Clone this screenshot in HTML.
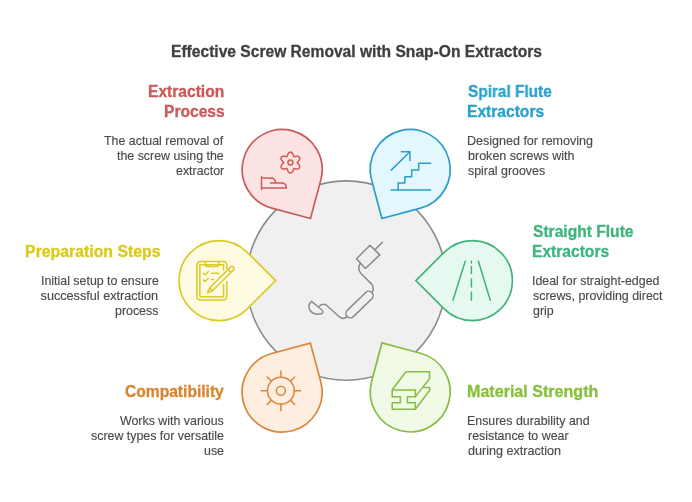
<!DOCTYPE html><html><head><meta charset="utf-8"><style>
html,body{margin:0;padding:0;background:#fff;}
#c{position:relative;width:692px;height:502px;overflow:hidden;background:#fff;font-family:"Liberation Sans",sans-serif;}
svg{position:absolute;left:0;top:0;}
.t{position:absolute;white-space:nowrap;will-change:transform;}
.h{font-weight:bold;font-size:15.6px;line-height:20px;-webkit-text-stroke:0.3px currentColor;}
.b{font-size:12.4px;line-height:15px;color:#4b4b4b;-webkit-text-stroke:0.15px currentColor;}
.r{text-align:right;}
</style></head><body><div id="c">
<svg width="692" height="502" viewBox="0 0 692 502">
<circle cx="346.2" cy="280.6" r="99.7" fill="#f0f0f0" stroke="#8c8c8c" stroke-width="1.6"/><path d="M310.48,218.49 L271.85,208.14 A40,40 0 1 1 320.84,179.85 Z" fill="#fde4e4" stroke="#cb5b57" stroke-width="1.7" stroke-linejoin="miter"/><path d="M381.92,218.49 L371.56,179.85 A40,40 0 1 1 420.55,208.14 Z" fill="#e3f8fe" stroke="#2b9dc9" stroke-width="1.7" stroke-linejoin="miter"/><path d="M415.83,280.60 L444.12,252.32 A40,40 0 1 1 444.12,308.88 Z" fill="#e6f9f0" stroke="#40b27b" stroke-width="1.7" stroke-linejoin="miter"/><path d="M381.92,342.91 L420.55,353.26 A40,40 0 1 1 371.56,381.55 Z" fill="#f1f9e7" stroke="#86bd42" stroke-width="1.7" stroke-linejoin="miter"/><path d="M310.38,343.11 L320.74,381.75 A40,40 0 1 1 271.75,353.46 Z" fill="#fdeee0" stroke="#d8883e" stroke-width="1.7" stroke-linejoin="miter"/><path d="M275.57,280.60 L247.28,308.88 A40,40 0 1 1 247.28,252.32 Z" fill="#fefbe2" stroke="#d9ca26" stroke-width="1.7" stroke-linejoin="miter"/>
<g fill="none" stroke-width="1.5" stroke-linecap="round" stroke-linejoin="round" stroke="#cb5b57"><path d="M290.40,152.10 L290.95,152.18 L291.47,152.42 L291.95,152.81 L292.37,153.32 L292.73,153.91 L293.02,154.55 L293.24,155.20 L293.42,155.81 L293.59,156.34 L293.80,156.71 L294.23,156.71 L294.77,156.58 L295.39,156.44 L296.07,156.31 L296.76,156.24 L297.45,156.25 L298.10,156.36 L298.68,156.59 L299.15,156.92 L299.49,157.35 L299.69,157.86 L299.75,158.44 L299.65,159.05 L299.43,159.67 L299.09,160.27 L298.68,160.84 L298.23,161.36 L297.79,161.82 L297.42,162.23 L297.20,162.60 L297.42,162.97 L297.79,163.38 L298.23,163.84 L298.68,164.36 L299.09,164.93 L299.43,165.53 L299.65,166.15 L299.75,166.76 L299.69,167.34 L299.49,167.85 L299.15,168.28 L298.68,168.61 L298.10,168.84 L297.45,168.95 L296.76,168.96 L296.07,168.89 L295.39,168.76 L294.77,168.62 L294.23,168.49 L293.80,168.49 L293.59,168.86 L293.42,169.39 L293.24,170.00 L293.02,170.65 L292.73,171.29 L292.37,171.88 L291.95,172.39 L291.47,172.78 L290.95,173.02 L290.40,173.10 L289.85,173.02 L289.33,172.78 L288.85,172.39 L288.43,171.88 L288.07,171.29 L287.78,170.65 L287.56,170.00 L287.38,169.39 L287.21,168.86 L287.00,168.49 L286.57,168.49 L286.03,168.62 L285.41,168.76 L284.73,168.89 L284.04,168.96 L283.35,168.95 L282.70,168.84 L282.12,168.61 L281.65,168.28 L281.31,167.85 L281.11,167.34 L281.05,166.76 L281.15,166.15 L281.37,165.53 L281.71,164.93 L282.12,164.36 L282.57,163.84 L283.01,163.38 L283.38,162.97 L283.60,162.60 L283.38,162.23 L283.01,161.82 L282.57,161.36 L282.12,160.84 L281.71,160.27 L281.37,159.67 L281.15,159.05 L281.05,158.44 L281.11,157.86 L281.31,157.35 L281.65,156.92 L282.12,156.59 L282.70,156.36 L283.35,156.25 L284.04,156.24 L284.73,156.31 L285.41,156.44 L286.03,156.58 L286.57,156.71 L287.00,156.71 L287.21,156.34 L287.38,155.81 L287.56,155.20 L287.78,154.55 L288.07,153.91 L288.43,153.32 L288.85,152.81 L289.33,152.42 L289.85,152.18 L290.40,152.10Z"/><circle cx="290.4" cy="162.6" r="2.5"/><path d="M261.5,176.2 V190.3 M261.5,178 H270 Q275.6,178 275.6,183.1 M270,183.1 H281.5 Q286.4,183.1 286.4,188.1 H261.5" stroke-linecap="butt"/></g><g fill="none" stroke-width="1.5" stroke-linecap="round" stroke-linejoin="round" stroke="#2b9dc9" stroke-linecap="butt" stroke-linejoin="miter"><path d="M391.2,170.1 L409.9,151.8 M401.4,151.8 H409.9 V160.4"/><path d="M391.2,190 H430.6 M398.2,190 V183.1 H404.9 V176.7 H411.7 V169.9 H418.7 V163.2 H430.6"/></g><g fill="none" stroke-width="1.5" stroke-linecap="round" stroke-linejoin="round" stroke="#40b27b" stroke-linecap="butt"><path d="M465.2,261.2 L453,300.3 M478.4,261.2 L490.3,300.3 M471.4,261.2 V263 M471.4,266.5 V273.4 M471.4,279 V286.9 M471.4,292.3 V300.3"/></g><g fill="none" stroke-width="1.5" stroke-linecap="round" stroke-linejoin="round" stroke="#86bd42" stroke-linejoin="round"><path d="M392.1,390 L405.9,371.8 H429.5 V378.8 L415.4,396.6"/><path d="M392.2,389.9 H415.4 V396.7 H407.4 V402.8 H415.4 V409.3 H392.2 V402.8 H400.4 V396.7 H392.2 Z"/><path d="M423.7,387.5 H429.6 V390.5 L415.4,409.3"/></g><g fill="none" stroke-width="1.5" stroke-linecap="round" stroke-linejoin="round" stroke="#d8883e" stroke-linecap="butt"><circle cx="280.9" cy="390.7" r="13.4"/><circle cx="280.9" cy="390.7" r="4.5"/><path d="M280.90,377.30 L280.90,371.00 M290.80,380.80 L294.62,376.98 M294.30,390.70 L300.60,390.70 M290.80,400.60 L294.62,404.42 M280.90,404.10 L280.90,410.40 M271.00,400.60 L267.18,404.42 M267.50,390.70 L261.20,390.70 M271.00,380.80 L267.18,376.98 "/></g><g fill="none" stroke-width="1.5" stroke-linecap="round" stroke-linejoin="round" stroke="#d9ca26"><path d="M226.8,268.5 V265.4 Q226.8,261.4 222.8,261.4 H200.8 Q196.8,261.4 196.8,265.4 V296.1 Q196.8,300.1 200.8,300.1 H222.8 Q226.8,300.1 226.8,296.1 V281.5"/><path d="M223.6,270 V264.7 H199.9 V296.7 H223.6 V284.5"/><path d="M205.3,261.4 V264.5 Q205.3,266.5 207.3,266.5 H216.7 Q218.7,266.5 218.7,264.5 V261.4"/><path d="M203.5,273.2 L205.1,274.8 L208.4,271.5 M211.6,273.2 H218.7 M203.5,279.9 L205.1,281.5 L208.4,278.2 M211.6,279.6 H213.8"/><path d="M207.50,292.90 L209.62,287.95 L230.48,267.09 A2.0,2.0 0 0 1 233.31,269.92 L212.45,290.78 Z M209.62,287.95 L212.45,290.78 M228.01,269.57 L230.83,272.39"/></g><g fill="none" stroke-width="1.5" stroke-linecap="round" stroke-linejoin="round" stroke="#8a8a8a"><path d="M382.5,242.2 L375.3,249.4"/><path d="M369.9,245.2 L379.8,254.9 L365.4,268.5 L356.5,258.7 Z"/><path d="M360.2,263.7 Q357,269 361,273.5 L371.2,283.6 Q374.5,287.5 372.3,292.3"/><path d="M353.36,316.66 L371.86,298.76 A4.4,4.4 0 0 0 365.74,292.44 L347.24,310.34 A4.4,4.4 0 0 0 353.36,316.66 Z"/><path d="M347.0,316.8 Q343.5,320 339.8,317.2 L326.5,305.2 Q323,302.8 319.3,306"/><path d="M311.6,301.4 Q307,305 310,310.5 Q314.5,316 322,313.5 Q324,312 321.4,309.5 Z"/></g>
</svg>
<div class="t h" style="left:171.00px;transform-origin:0 50%;top:42px;color:#3f3f3f;">Effective Screw Removal with Snap-On Extractors</div>
<div class="t h" style="right:468.00px;transform-origin:100% 50%;top:82px;color:#cc5858;">Extraction</div>
<div class="t h" style="right:467.20px;transform-origin:100% 50%;top:102px;color:#cc5858;">Process</div>
<div class="t b" style="right:469.20px;transform-origin:100% 50%;top:134px;color:#4b4b4b;">The actual removal of</div>
<div class="t b" style="right:468.40px;transform-origin:100% 50%;top:149px;color:#4b4b4b;">the screw using the</div>
<div class="t b" style="right:468.00px;transform-origin:100% 50%;top:164px;color:#4b4b4b;">extractor</div>
<div class="t h" style="left:468.10px;transform-origin:0 50%;top:82px;color:#28a0cc;transform:scaleX(0.9859);">Spiral Flute</div>
<div class="t h" style="left:467.00px;transform-origin:0 50%;top:102px;color:#28a0cc;">Extractors</div>
<div class="t b" style="left:467.00px;transform-origin:0 50%;top:134px;color:#4b4b4b;transform:scaleX(1.0106);">Designed for removing</div>
<div class="t b" style="left:468.00px;transform-origin:0 50%;top:149px;color:#4b4b4b;transform:scaleX(1.0114);">broken screws with</div>
<div class="t b" style="left:468.00px;transform-origin:0 50%;top:164px;color:#4b4b4b;">spiral grooves</div>
<div class="t h" style="right:532.00px;transform-origin:100% 50%;top:242px;color:#dacb16;transform:scaleX(1.0144);">Preparation Steps</div>
<div class="t b" style="right:533.50px;transform-origin:100% 50%;top:274px;color:#4b4b4b;">Initial setup to ensure</div>
<div class="t b" style="right:533.60px;transform-origin:100% 50%;top:289px;color:#4b4b4b;transform:scaleX(1.0212);">successful extraction</div>
<div class="t b" style="right:533.60px;transform-origin:100% 50%;top:304px;color:#4b4b4b;">process</div>
<div class="t h" style="left:533.00px;transform-origin:0 50%;top:222px;color:#3eb57b;">Straight Flute</div>
<div class="t h" style="left:532.00px;transform-origin:0 50%;top:242px;color:#3eb57b;">Extractors</div>
<div class="t b" style="left:532.00px;transform-origin:0 50%;top:274px;color:#4b4b4b;">Ideal for straight-edged</div>
<div class="t b" style="left:533.00px;transform-origin:0 50%;top:289px;color:#4b4b4b;">screws, providing direct</div>
<div class="t b" style="left:532.80px;transform-origin:0 50%;top:304px;color:#4b4b4b;">grip</div>
<div class="t h" style="right:468.00px;transform-origin:100% 50%;top:382px;color:#d9842f;">Compatibility</div>
<div class="t b" style="right:468.00px;transform-origin:100% 50%;top:414px;color:#4b4b4b;">Works with various</div>
<div class="t b" style="right:468.00px;transform-origin:100% 50%;top:429px;color:#4b4b4b;">screw types for versatile</div>
<div class="t b" style="right:468.00px;transform-origin:100% 50%;top:444px;color:#4b4b4b;">use</div>
<div class="t h" style="left:467.00px;transform-origin:0 50%;top:382px;color:#88bf3c;transform:scaleX(1.0310);">Material Strength</div>
<div class="t b" style="left:467.00px;transform-origin:0 50%;top:414px;color:#4b4b4b;">Ensures durability and</div>
<div class="t b" style="left:468.00px;transform-origin:0 50%;top:429px;color:#4b4b4b;">resistance to wear</div>
<div class="t b" style="left:468.00px;transform-origin:0 50%;top:444px;color:#4b4b4b;transform:scaleX(1.0154);">during extraction</div>
</div></body></html>
